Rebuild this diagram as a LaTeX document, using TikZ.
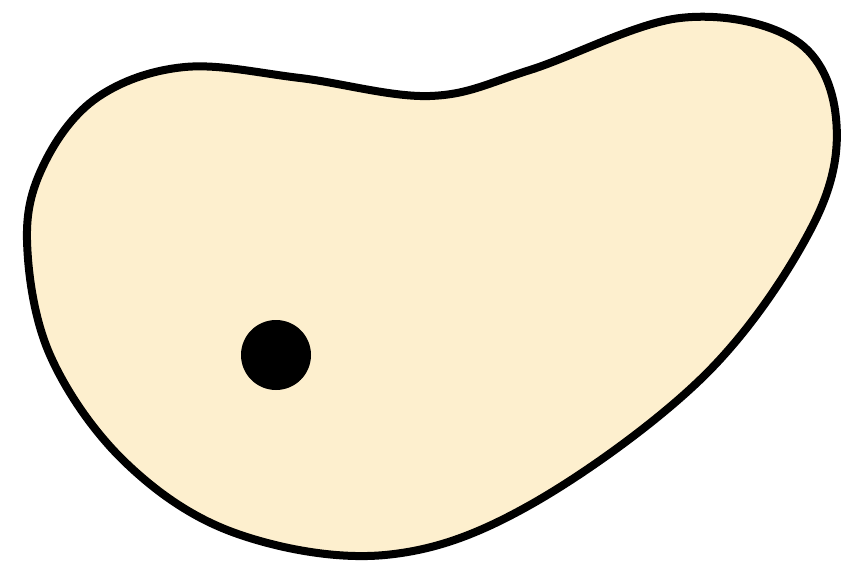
\documentclass[tikz,border=0pt]{standalone}
\usetikzlibrary{calc}
\definecolor{blobfill}{HTML}{FDEFCE}
\tikzset{
    blob/.style={draw=black, line width=8pt, fill=blobfill},
    spot/.style={circle, fill=black, minimum size=70pt, inner sep=0pt}
}
\begin{document}
\begin{tikzpicture}[x=1pt, y=-1pt]
    \useasboundingbox (0,0) rectangle (841,567);
    % the region
    \draw[blob] plot[smooth cycle, tension=0.6] coordinates {
        (27,240) (45,162) (98,97) (185,67) (300,78) (430,96) (530,70)
        (680,18) (795,40) (836,118) (813,225) (705,375) (530,505)
        (385,555) (235,533) (125,462) (50,355)
    };
    % the point
    \node[spot] (pt) at (276,355) {};
\end{tikzpicture}
\end{document}
